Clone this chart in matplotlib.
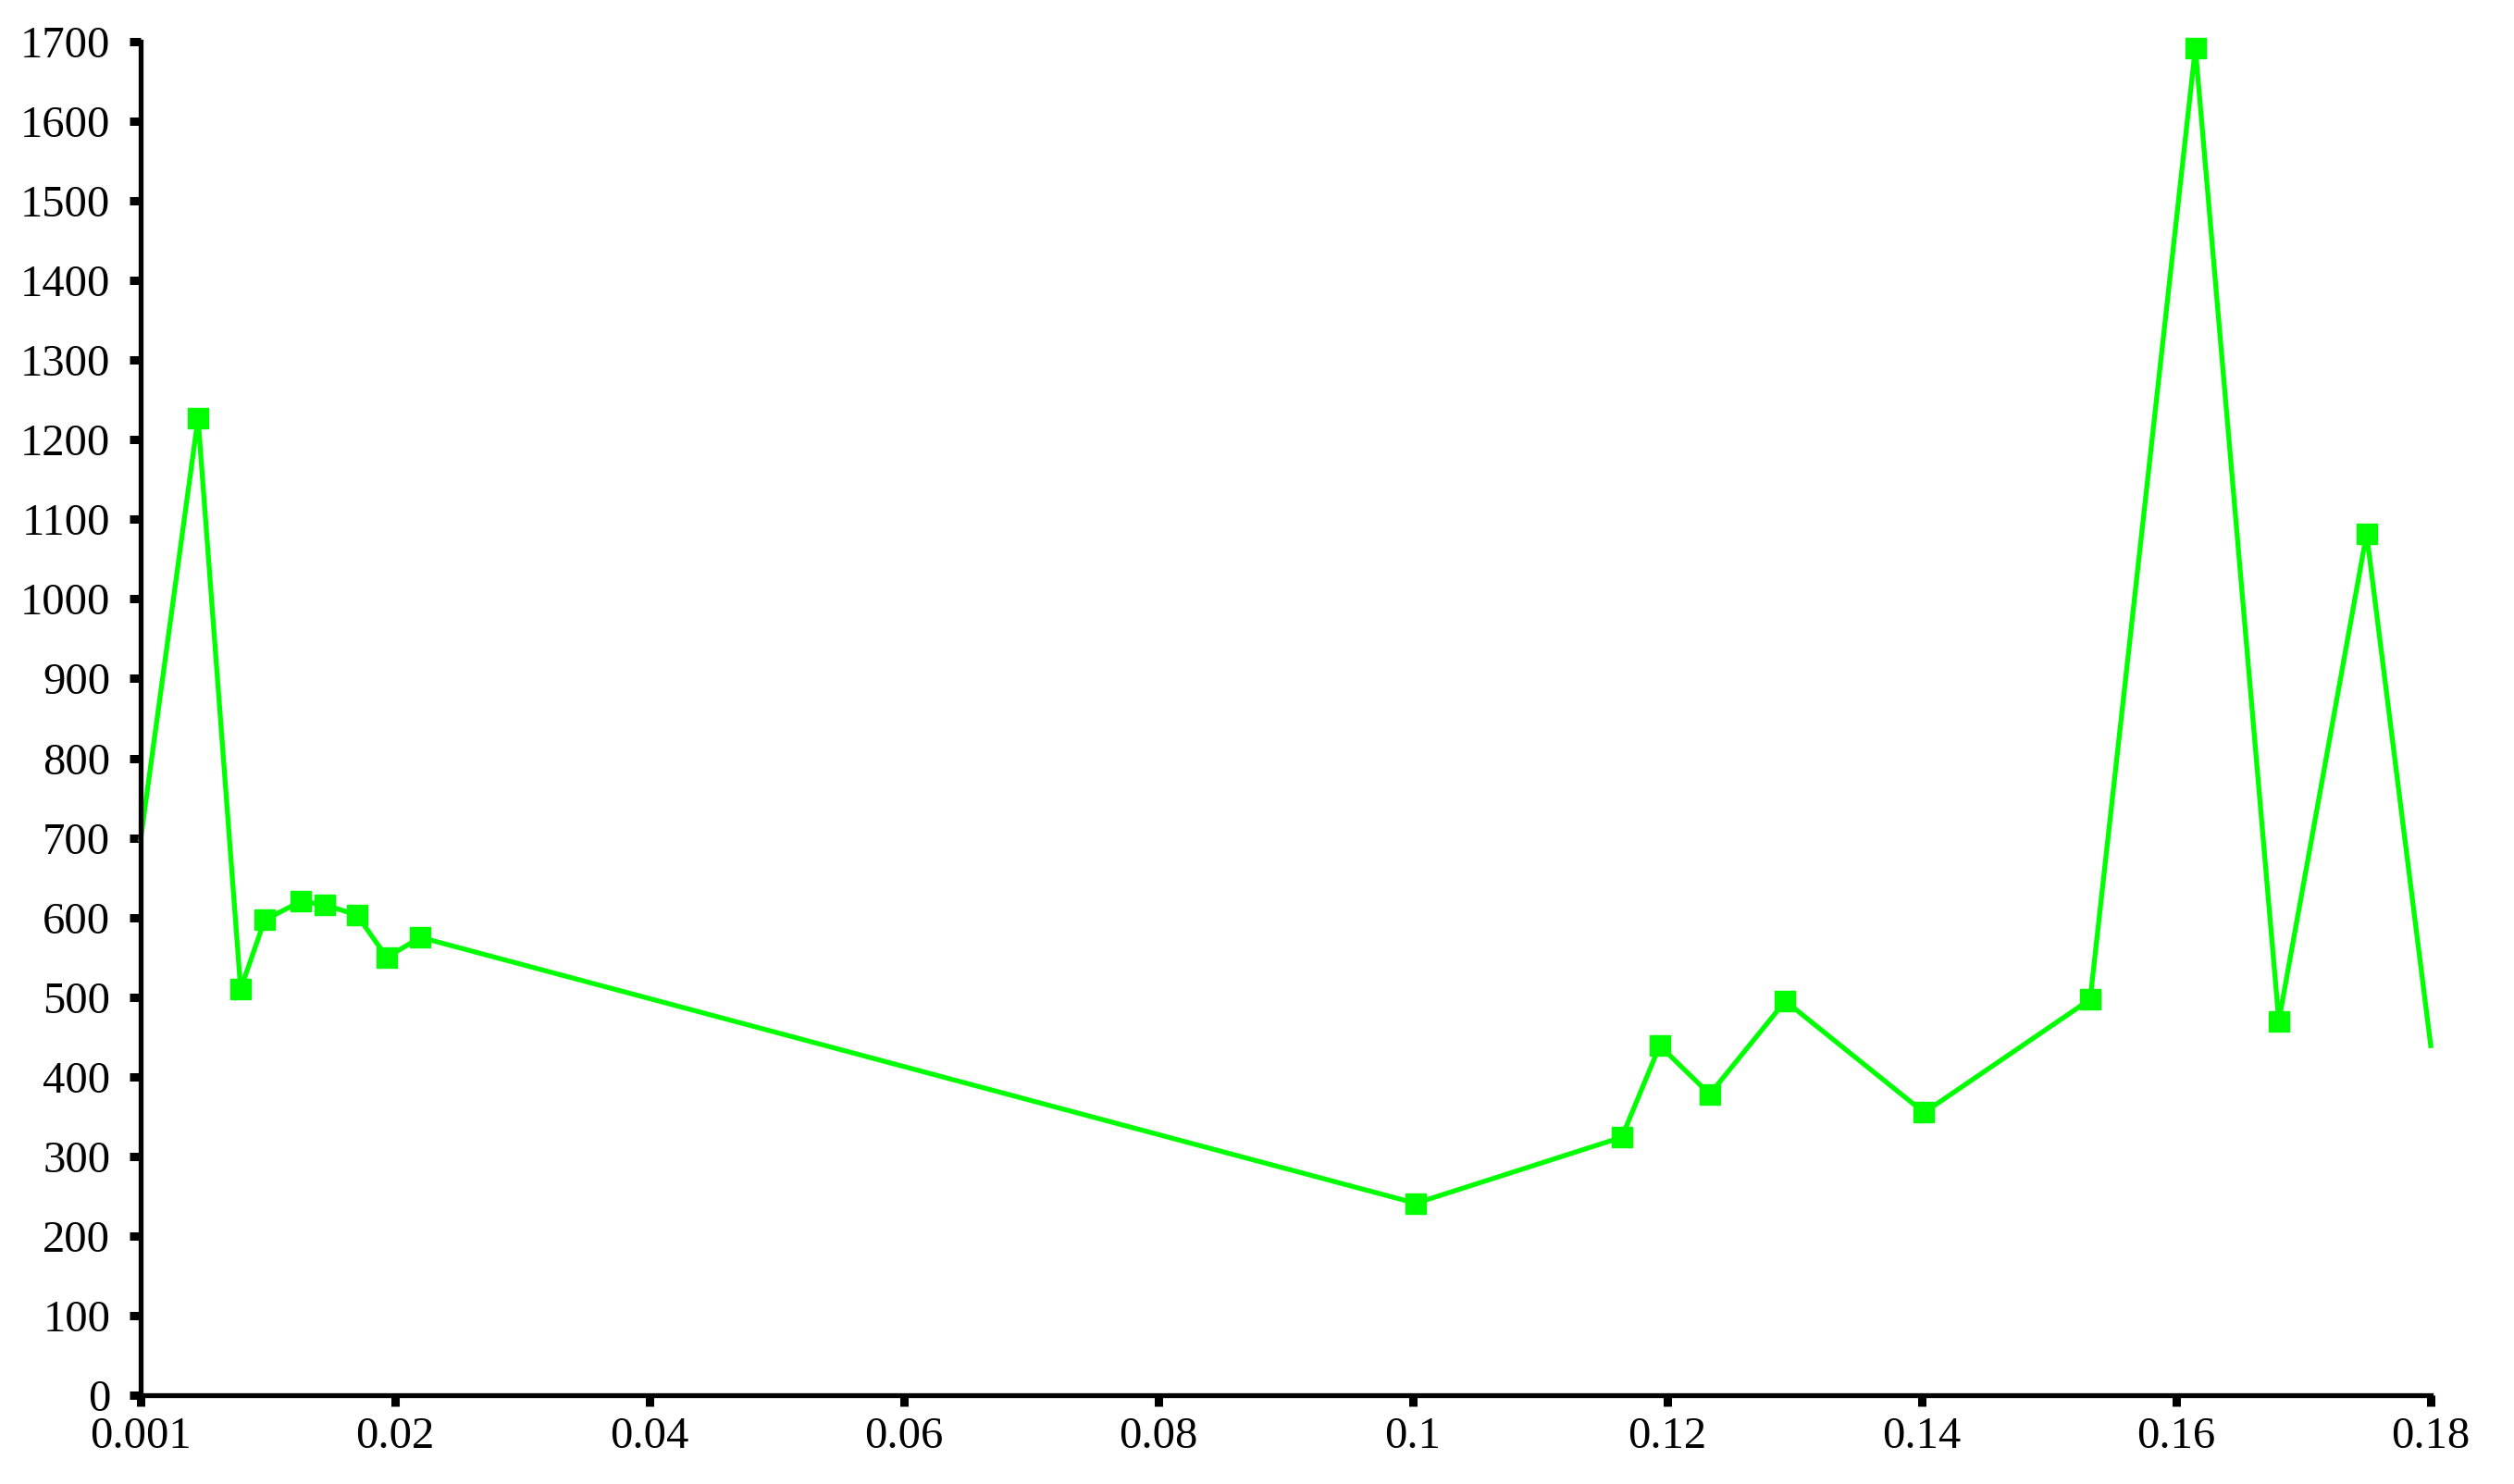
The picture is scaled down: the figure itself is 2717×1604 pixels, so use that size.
import matplotlib
matplotlib.use("Agg")
import matplotlib.pyplot as plt

# Data
x_vals = [0.0, 0.00451, 0.00786, 0.00975, 0.01258, 0.01447, 0.01700, 0.01935, 0.02199,
          0.10022, 0.11642, 0.11940, 0.12333, 0.12927, 0.14018, 0.15323, 0.16150,
          0.16806, 0.17496, 0.18]
y_vals = [698, 1227, 510, 597, 620, 616, 603, 550, 575,
          241, 324, 439, 378, 495, 355, 497, 1692,
          470, 1082, 439]

x_ticks = [0.0, 0.02, 0.04, 0.06, 0.08, 0.1, 0.12, 0.14, 0.16, 0.18]
x_tick_labels = ["0.001", "0.02", "0.04", "0.06", "0.08", "0.1", "0.12", "0.14", "0.16", "0.18"]
y_ticks = list(range(0, 1701, 100))

plt.rcParams['font.family'] = ['Liberation Serif', 'DejaVu Serif']

fig = plt.figure(figsize=(27.17, 16.04), dpi=100)
ax = fig.add_axes([152 / 2717, 1 - 1508 / 1604, (2627 - 152) / 2717, (1508 - 45) / 1604])

ax.plot(x_vals, y_vals, color="#00FF00", lw=3.8, marker="s", ms=15.5,
        markevery=slice(1, len(x_vals) - 1), mec="#00FF00", mfc="#00FF00", clip_on=False,
        solid_joinstyle="miter")

ax.set_xlim(0, 0.18)
ax.set_ylim(0, 1700)
ax.set_xticks(x_ticks)
ax.set_xticklabels(x_tick_labels)
ax.set_yticks(y_ticks)
ax.set_yticklabels([str(v) for v in y_ticks])

for s in ["top", "right"]:
    ax.spines[s].set_visible(False)
for s in ["left", "bottom"]:
    ax.spines[s].set_linewidth(3.8)
    ax.spines[s].set_color("black")

ax.tick_params(axis="both", direction="out", length=8.5, width=6.5, color="black",
               labelsize=35)
ax.tick_params(axis="y", pad=15)
ax.tick_params(axis="x", pad=8)

fig.savefig("out.png", dpi=100, facecolor="white")
